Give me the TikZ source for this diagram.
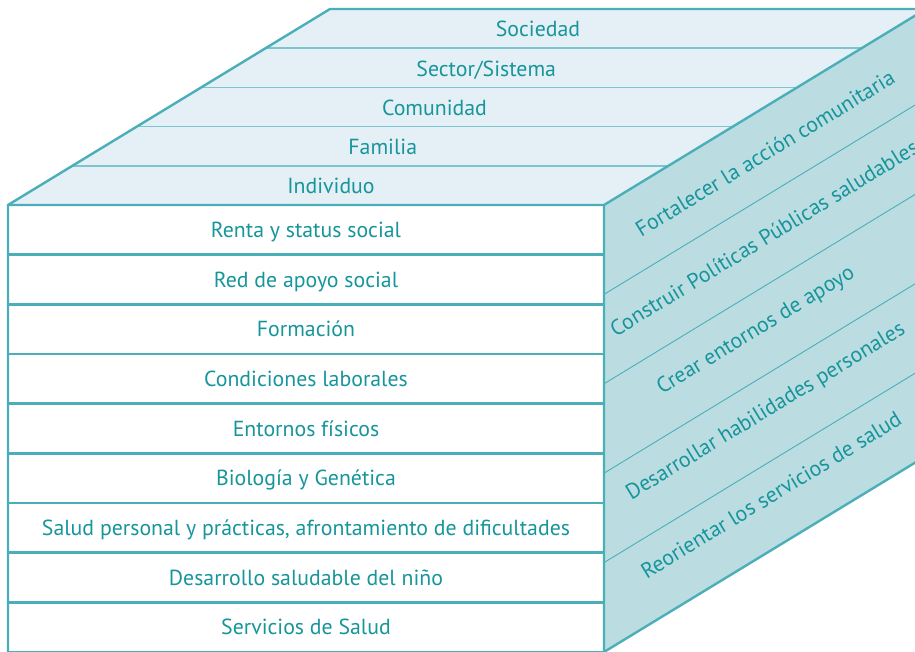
\documentclass[tikz,border=0pt]{standalone}
\usepackage{fontspec}
\setmainfont{PT Sans}

\definecolor{tealline}{HTML}{4AAFB8}
\definecolor{tealtext}{HTML}{16959B}
\definecolor{topfill}{HTML}{E4F0F5}
\definecolor{sidefill}{HTML}{BBDDE2}
\definecolor{topdiv}{HTML}{7CC5CD}

\begin{document}
\begin{tikzpicture}[x=1pt, y=-1pt,
	edge/.style={draw=tealline, line width=2.4pt},
	lbl/.style={text=tealtext, font=\fontsize{21.8}{26}\selectfont, inner sep=0pt}]
	\useasboundingbox (0,0) rectangle (915,652);
	\clip (0,0) rectangle (915,652);
	
	% faces
	\fill [topfill] (8,205) -- (330,9) -- (926,9) -- (604,205) -- cycle;
	\fill [sidefill] (604,205) -- (926,9) -- (926,456) -- (604,652) -- cycle;
	
	% top rows
	\foreach \i in {1,...,4}
		\draw [topdiv, line width=1.5pt] (8+\i*64.4,205-\i*39.2) -- (604+\i*64.4,205-\i*39.2);
	% side bands
	\foreach \i in {1,...,4}
		\draw [tealline, line width=0.9pt] (604,205+\i*89.4) -- ++(322,-196);
	% front rows
	\foreach \i in {1,...,8}
		\draw [edge] (8,205+\i*49.67) -- (604,205+\i*49.67);
	
	% outline
	\draw [edge] (8,652) -- (8,205) -- (330,9) -- (926,9);
	\draw [edge] (8,205) -- (604,205) -- (926,9);
	\draw [edge] (604,205) -- (604,652) -- (926,456);
	\draw [edge] (8,652) -- (604,652);
	
	\foreach \t [count=\i] in {Renta y status social, Red de apoyo social, Formación, Condiciones laborales, Entornos físicos, Biología y Genética, {Salud personal y prácticas, afrontamiento de dificultades}, Desarrollo saludable del niño, Servicios de Salud}
		\node [lbl, anchor=base] (f\i) at (306,205+\i*49.67-49.67+32.5) {\t};
	
	\foreach \t [count=\i] in {Individuo, Familia, Comunidad, Sector/Sistema, Sociedad}
		\node [lbl, anchor=base] (t\i) at (331+\i*51.75-51.75,166.2-\i*39.2+39.2+27.5) {\t};
	
	\foreach \t/\x/\y [count=\i] in {Fortalecer la acción comunitaria/765/153, Construir Políticas Públicas saludables/764/238, Crear entornos de apoyo/756/331, Desarrollar habilidades personales/766/412, Reorientar los servicios de salud/771/495}
		\node [lbl, rotate=31.3] (s\i) at (\x,\y) {\t};
\end{tikzpicture}
\end{document}
